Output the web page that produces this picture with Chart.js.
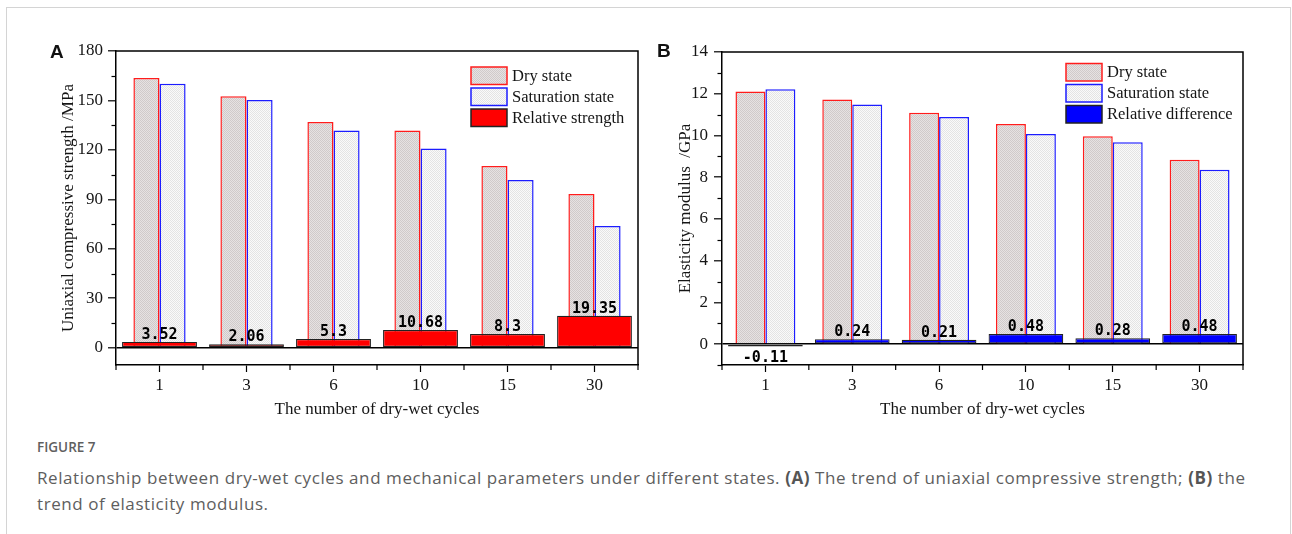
<!DOCTYPE html>
<html lang="en">
<head>
    <meta charset="UTF-8">
    <title>Figure 7 - dry-wet cycles and mechanical parameters</title>
    <style>
        body {
            margin: 0;
            background-color: #fff;
            width: 1292px;
            height: 534px;
            overflow: hidden;
            position: relative;
        }

        .frame {
            position: absolute;
            left: 6px;
            top: 7px;
            width: 1283px;
            height: 600px;
            border: 1.5px solid #d4d4d4;
        }

        .panel {
            position: absolute;
            top: 0;
        }

        .tag {
            position: absolute;
            font-family: "Liberation Sans", Arial, sans-serif;
            font-weight: bold;
            font-size: 19px;
            line-height: 19px;
            color: #111;
        }

        .fig-no {
            position: absolute;
            left: 37px;
            top: 438px;
            font-family: "Open Sans", sans-serif;
            font-weight: 600;
            font-size: 13.5px;
            line-height: 18px;
            color: #5f5f5f;
        }

        .caption {
            position: absolute;
            left: 37px;
            top: 465px;
            font-family: "Open Sans", sans-serif;
            font-size: 17px;
            letter-spacing: 0.58px;
            line-height: 26px;
            color: #5e5e5e;
            white-space: nowrap;
        }

        .caption b {
            color: #555;
        }
    </style>
    <script src="https://cdn.jsdelivr.net/npm/chart.js@4"></script>
</head>
<body>

<div class="frame"></div>

<canvas id="chartA" class="panel" width="646" height="430" style="left:0"></canvas>
<canvas id="chartB" class="panel" width="646" height="430" style="left:646px"></canvas>

<div class="tag" style="left:50px; top:42px">A</div>
<div class="tag" style="left:657px; top:41px">B</div>

<div class="fig-no">FIGURE 7</div>
<div class="caption">Relationship between dry-wet cycles and mechanical parameters under different states. <b>(A)</b> The trend of uniaxial compressive strength; <b>(B)</b> the<br>trend of elasticity modulus.</div>

<script>
    // values
    const cycles = ['1', '3', '6', '10', '15', '30'];

    const strengthDry = [163.6, 152.5, 137.0, 131.8, 110.3, 93.3];
    const strengthSat = [160.2, 150.3, 131.8, 120.8, 101.8, 73.9];
    const strengthRel = [3.52, 2.06, 5.3, 10.68, 8.3, 19.35];
    const strengthTicks = [0, 30, 60, 90, 120, 150, 180];
    const strengthMinor = [15, 45, 75, 105, 135, 165];

    const modulusDry = [12.11, 11.72, 11.09, 10.55, 9.96, 8.84];
    const modulusSat = [12.22, 11.49, 10.88, 10.07, 9.68, 8.36];
    const modulusRel = [-0.11, 0.24, 0.21, 0.48, 0.28, 0.48];
    const modulusTicks = [0, 2, 4, 6, 8, 10, 12, 14];
    const modulusMinor = [-1, 1, 3, 5, 7, 9, 11, 13];

    const serif = '"Liberation Serif", "Times New Roman", serif';
    const ink = '#151515';

    // small stipple fill like the original hatch
    function dotPattern(ctx, base, dot) {
        const c = document.createElement('canvas');
        c.width = 2;
        c.height = 2;
        const g = c.getContext('2d');
        g.fillStyle = base;
        g.fillRect(0, 0, 2, 2);
        g.fillStyle = dot;
        g.fillRect(0, 0, 1, 1);
        g.fillRect(1, 1, 1, 1);
        return ctx.createPattern(c, 'repeat');
    }

    // frame, minor ticks, boundary ticks on the category axis
    const axisExtras = {
        id: 'axisExtras',
        afterDatasetsDraw(chart, args, opts) {
            const {ctx, chartArea: a} = chart;
            const x = chart.scales.x, y = chart.scales.y;
            ctx.save();
            ctx.strokeStyle = '#000';
            ctx.lineWidth = 1.5;
            ctx.beginPath();
            ctx.moveTo(a.left, a.top);
            ctx.lineTo(a.right, a.top);
            ctx.lineTo(a.right, a.bottom);
            ctx.stroke();

            ctx.lineWidth = 1.2;
            opts.minor.forEach(v => {
                const py = Math.round(y.getPixelForValue(v)) + 0.5;
                ctx.beginPath();
                ctx.moveTo(a.left - 4.5, py);
                ctx.lineTo(a.left, py);
                ctx.stroke();
            });

            const n = x.ticks.length;
            for (let i = 0; i <= n; i++) {
                let px;
                if (i === 0) px = a.left;
                else if (i === n) px = a.right;
                else px = (x.getPixelForValue(i - 1) + x.getPixelForValue(i)) / 2;
                ctx.beginPath();
                ctx.moveTo(px, a.bottom);
                ctx.lineTo(px, a.bottom + 5);
                ctx.stroke();
            }
            ctx.restore();
        }
    };

    // numbers over the difference bars
    const barValues = {
        id: 'barValues',
        afterDatasetsDraw(chart) {
            const {ctx} = chart;
            const ds = chart.data.datasets[2];
            const meta = chart.getDatasetMeta(2);
            ctx.save();
            ctx.font = 'bold 15px "DejaVu Sans Mono", monospace';
            ctx.fillStyle = '#000';
            ctx.textAlign = 'center';
            meta.data.forEach((bar, i) => {
                const v = ds.data[i];
                if (v >= 0) {
                    ctx.textBaseline = 'alphabetic';
                    ctx.fillText(String(v), bar.x, bar.y - 3);
                } else {
                    ctx.textBaseline = 'top';
                    ctx.fillText(String(v), bar.x, bar.y + 4);
                }
            });
            ctx.restore();
        }
    };

    // legend sits inside the plot, top right
    const boxLegend = {
        id: 'boxLegend',
        afterDraw(chart, args, opts) {
            const {ctx} = chart;
            ctx.save();
            chart.data.datasets.forEach((ds, i) => {
                const top = opts.y + i * 21;
                ctx.fillStyle = ds.backgroundColor;
                ctx.fillRect(opts.x, top, 36, 17.5);
                ctx.strokeStyle = ds.legendEdge || ds.borderColor;
                ctx.lineWidth = 1.5;
                ctx.strokeRect(opts.x, top, 36, 17.5);
                ctx.fillStyle = ink;
                ctx.font = '16.5px ' + serif;
                ctx.textAlign = 'left';
                ctx.textBaseline = 'middle';
                ctx.fillText(ds.label, opts.x + 41, top + 9.5);
            });
            ctx.restore();
        }
    };

    function makePanel(id, p) {
        const ctx = document.getElementById(id).getContext('2d');
        const dryFill = dotPattern(ctx, '#e6e2e2', '#d0caca');
        const satFill = dotPattern(ctx, '#fafafa', '#e4e4e4');

        return new Chart(ctx, {
            type: 'bar',
            data: {
                labels: cycles,
                datasets: [
                    {
                        label: 'Dry state',
                        data: p.dry,
                        order: 1,
                        backgroundColor: dryFill,
                        borderColor: '#ff1c1c',
                        borderWidth: 1.5,
                        categoryPercentage: p.pairWidth,
                        barPercentage: 1
                    },
                    {
                        label: 'Saturation state',
                        data: p.sat,
                        order: 1,
                        backgroundColor: satFill,
                        borderColor: '#1c1cff',
                        borderWidth: 1.5,
                        categoryPercentage: p.pairWidth,
                        barPercentage: 1
                    },
                    {
                        // drawn last so it covers the foot of the pair
                        label: p.relLabel,
                        data: p.rel,
                        order: 0,
                        backgroundColor: p.relColor,
                        borderColor: '#222',
                        legendEdge: '#222',
                        borderWidth: 1.2,
                        borderSkipped: false,
                        grouped: false,
                        categoryPercentage: 0.86,
                        barPercentage: 1
                    }
                ]
            },
            options: {
                responsive: false,
                animation: false,
                devicePixelRatio: 1,
                layout: { padding: p.padding },
                plugins: {
                    legend: { display: false },
                    tooltip: { enabled: false },
                    axisExtras: { minor: p.minor },
                    boxLegend: { x: p.legendX, y: p.legendY }
                },
                scales: {
                    x: {
                        type: 'category',
                        offset: true,
                        grid: {
                            offset: false,
                            drawOnChartArea: false,
                            tickLength: 7,
                            tickWidth: 1.2,
                            tickColor: '#000'
                        },
                        border: { color: '#000', width: 1.5 },
                        ticks: { font: { family: serif, size: 17 }, color: ink, padding: 3 },
                        title: {
                            display: true,
                            text: 'The number of dry-wet cycles',
                            font: { family: serif, size: 17 },
                            color: ink,
                            padding: { top: 0, bottom: 0 }
                        },
                        afterFit: s => { s.height = 55; }
                    },
                    y: {
                        min: p.min,
                        max: p.max,
                        afterBuildTicks: s => { s.ticks = p.ticks.map(v => ({ value: v })); },
                        grid: {
                            drawOnChartArea: true,
                            color: c => (c.tick && c.tick.value === 0) ? '#000' : 'rgba(0,0,0,0)',
                            lineWidth: 1.6,
                            tickLength: 8,
                            tickWidth: 1.2,
                            tickColor: '#000'
                        },
                        border: { color: '#000', width: 1.5 },
                        ticks: { font: { family: serif, size: 17 }, color: ink, padding: p.tickPad },
                        title: {
                            display: true,
                            text: p.yTitle,
                            font: { family: serif, size: 17 },
                            color: ink,
                            padding: { top: p.titlePad, bottom: 0 }
                        },
                        afterFit: s => { s.width = p.axisWidth; }
                    }
                }
            },
            plugins: [axisExtras, barValues, boxLegend]
        });
    }

    // (A) uniaxial compressive strength
    makePanel('chartA', {
        dry: strengthDry,
        sat: strengthSat,
        rel: strengthRel,
        relLabel: 'Relative strength',
        relColor: '#ff0000',
        ticks: strengthTicks,
        minor: strengthMinor,
        min: -10.5,
        max: 180,
        yTitle: 'Uniaxial compressive strength /MPa',
        pairWidth: 0.6,
        axisWidth: 116,
        titlePad: 58,
        tickPad: 5,
        padding: { left: 0, top: 51, right: 8, bottom: 10 },
        legendX: 471,
        legendY: 67
    });

    // (B) elasticity modulus
    makePanel('chartB', {
        dry: modulusDry,
        sat: modulusSat,
        rel: modulusRel,
        relLabel: 'Relative difference',
        relColor: '#0000ff',
        ticks: modulusTicks,
        minor: modulusMinor,
        min: -1,
        max: 14,
        yTitle: 'Elasticity modulus  /GPa',
        pairWidth: 0.69,
        axisWidth: 76,
        titlePad: 29,
        tickPad: 6,
        padding: { left: 0, top: 52, right: 49, bottom: 10 },
        legendX: 420,
        legendY: 63.5
    });
</script>

</body>
</html>
